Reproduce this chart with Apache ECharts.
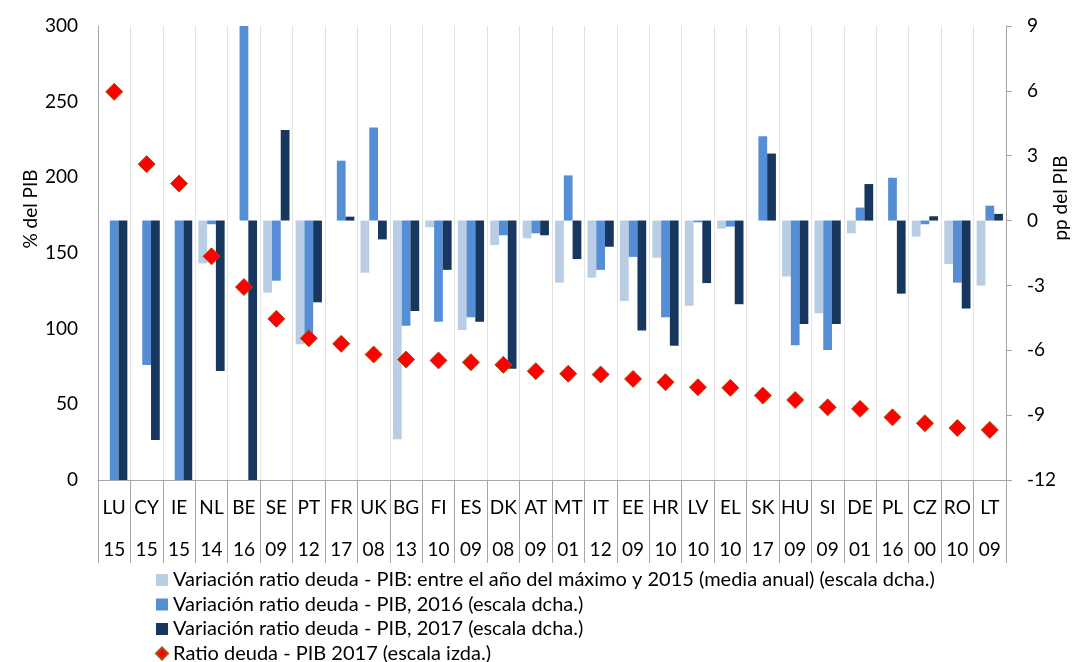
<!DOCTYPE html>
<html>
<head>
<meta charset="utf-8">
<script src="https://cdn.jsdelivr.net/npm/echarts@6/dist/echarts.min.js"></script>
<style>
  html, body { margin: 0; padding: 0; background: #fff; }
  #chart { width: 1077px; height: 662px; }
</style>
</head>
<body>
<div id="chart"></div>
<script>
// paises y año del máximo
const paises = ['LU', 'CY', 'IE', 'NL', 'BE', 'SE', 'PT', 'FR', 'UK', 'BG', 'FI', 'ES', 'DK', 'AT',
  'MT', 'IT', 'EE', 'HR', 'LV', 'EL', 'SK', 'HU', 'SI', 'DE', 'PL', 'CZ', 'RO', 'LT']
const anios = ['15', '15', '15', '14', '16', '09', '12', '17', '08', '13', '10', '09', '08', '09',
  '01', '12', '09', '10', '10', '10', '17', '09', '09', '01', '16', '00', '10', '09']

// variacion media anual entre el año del máximo y 2015 (escala dcha.)
const varMaximo = [null, null, null, -1.98, null, -3.33, -5.72, null, -2.41, -10.12, -0.31, -5.06, -1.13, -0.82,
  -2.87, -2.64, -3.72, -1.72, -3.94, -0.37, null, -2.59, -4.29, -0.59, null, -0.74, -2.01, -3.01]
// variacion 2016 (escala dcha.)
const var2016 = [-14, -6.68, -14, -0.17, 10, -2.78, -5.55, 2.77, 4.30, -4.86, -4.68, -4.47, -0.68, -0.59,
  2.09, -2.28, -1.68, -4.47, -0.08, -0.28, 3.90, -5.77, -5.99, 0.60, 1.98, -0.17, -2.87, 0.69]
// variacion 2017 (escala dcha.)
const var2017 = [-14, -10.15, -14, -6.96, -14, 4.19, -3.78, 0.18, -0.87, -4.18, -2.28, -4.68, -6.85, -0.68,
  -1.78, -1.21, -5.09, -5.79, -2.89, -3.87, 3.10, -4.78, -4.78, 1.69, -3.38, 0.20, -4.07, 0.31]
// ratio deuda - PIB 2017 (escala izda.)
const ratio2017 = [256.5, 208.7, 195.9, 147.8, 127.5, 106.5, 93.6, 90.0, 82.9, 79.6, 79.0, 77.8, 76.1, 71.9,
  70.2, 69.7, 66.8, 64.6, 61.3, 60.9, 55.8, 52.9, 48.0, 47.0, 41.4, 37.5, 34.4, 33.1]

const nombres = [
  'Variación ratio deuda - PIB: entre el año del máximo y 2015 (media anual) (escala dcha.)',
  'Variación ratio deuda - PIB, 2016 (escala dcha.)',
  'Variación ratio deuda - PIB, 2017 (escala dcha.)',
  'Ratio deuda - PIB 2017 (escala izda.)',
]

const fuente = 'Lato, "Open Sans", sans-serif'
const gris = '#a6a6a6'
const tam = 19

let myChart = echarts.init(document.getElementById('chart'))

let option = {
  animation: false,
  textStyle: { fontFamily: fuente },
  grid: { left: 98, right: 71, top: 26, bottom: 182 },
  legend: {
    orient: 'vertical',
    left: 155,
    top: 570,
    height: 100,
    padding: 0,
    itemWidth: 12,
    itemHeight: 12,
    itemGap: 4.5,
    textStyle: { fontSize: 20, lineHeight: 20, color: '#000', fontFamily: fuente },
    data: [
      { name: nombres[0], icon: 'rect' },
      { name: nombres[1], icon: 'rect' },
      { name: nombres[2], icon: 'rect' },
      { name: nombres[3], icon: 'diamond' },
    ],
  },
  xAxis: {
    type: 'category',
    data: paises,
    axisLine: { lineStyle: { color: gris } },
    axisTick: { show: true, length: 83, interval: 0, lineStyle: { color: gris } },
    splitLine: { show: true, interval: 0, lineStyle: { color: '#e3e3e3' } },
    axisLabel: {
      interval: 0,
      margin: 7,
      formatter: (v, i) => '{a|' + v + '}\n{a|' + anios[i] + '}',
      rich: { a: { fontSize: tam, lineHeight: 42, color: '#000', fontFamily: fuente } },
    },
  },
  yAxis: [
    {
      type: 'value',
      min: 0,
      max: 300,
      interval: 50,
      axisLine: { show: true, lineStyle: { color: gris } },
      axisTick: { show: false },
      splitLine: { show: false },
      axisLabel: { fontSize: tam, color: '#000', margin: 20 },
    },
    {
      type: 'value',
      min: -12,
      max: 9,
      interval: 3,
      axisLine: { show: true, lineStyle: { color: gris } },
      axisTick: { show: true, length: 6, lineStyle: { color: gris } },
      splitLine: { show: false },
      axisLabel: { fontSize: tam, color: '#000', margin: 21 },
    },
  ],
  graphic: [
    {
      type: 'text', x: 31, y: 209, rotation: Math.PI / 2,
      style: { text: '% del PIB', fill: '#000', font: tam + 'px ' + fuente, align: 'center', verticalAlign: 'middle' },
    },
    {
      type: 'text', x: 1061, y: 198, rotation: Math.PI / 2,
      style: { text: 'pp del PIB', fill: '#000', font: tam + 'px ' + fuente, align: 'center', verticalAlign: 'middle' },
    },
  ],
  series: [
    {
      name: nombres[0], type: 'bar', yAxisIndex: 1, data: varMaximo,
      barGap: '0%', barCategoryGap: '19%', clip: true,
      itemStyle: { color: '#b9cde5' },
    },
    {
      name: nombres[1], type: 'bar', yAxisIndex: 1, data: var2016,
      barGap: '0%', barCategoryGap: '19%', clip: true,
      itemStyle: { color: '#558ed5' },
    },
    {
      name: nombres[2], type: 'bar', yAxisIndex: 1, data: var2017,
      barGap: '0%', barCategoryGap: '19%', clip: true,
      itemStyle: { color: '#17375e' },
    },
    {
      name: nombres[3], type: 'scatter', yAxisIndex: 0, data: ratio2017,
      symbol: 'diamond', symbolSize: 17, z: 5,
      itemStyle: { color: '#ff0000', borderColor: '#a8500f', borderWidth: 1, opacity: 1 },
    },
  ],
}

myChart.setOption(option)
</script>
</body>
</html>
